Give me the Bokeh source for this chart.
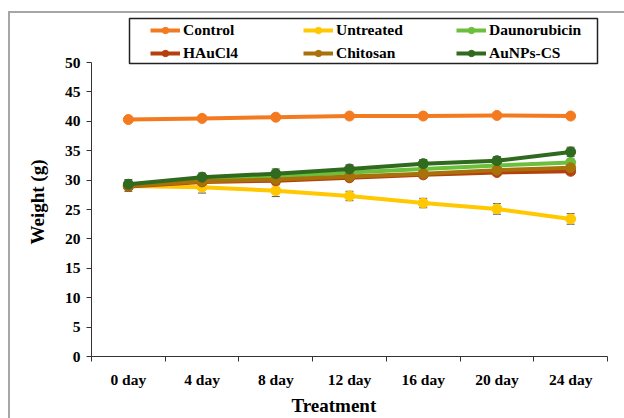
from bokeh.plotting import figure
from bokeh.models import ColumnDataSource, Whisker, FixedTicker, Range1d, TeeHead, BoxAnnotation, Title
from bokeh.embed import file_html
from bokeh.resources import INLINE

days = ["0 day", "4 day", "8 day", "12 day", "16 day", "20 day", "24 day"]
control = [40.3, 40.5, 40.7, 40.9, 40.9, 41.0, 40.9]
untreated = [29.0, 28.8, 28.2, 27.3, 26.1, 25.1, 23.4]
daunorubicin = [29.1, 30.2, 30.6, 31.3, 31.9, 32.5, 33.0]
haucl4 = [28.9, 29.7, 29.9, 30.4, 30.9, 31.3, 31.5]
chitosan = [29.0, 29.8, 30.1, 30.6, 31.1, 31.7, 32.1]
aunps_cs = [29.3, 30.5, 31.1, 31.9, 32.8, 33.3, 34.8]

err_control = [0.2, 0.2, 0.2, 0.2, 0.2, 0.2, 0.2]
err_untreated = [0.9, 1.0, 1.0, 0.8, 0.8, 0.9, 0.9]
err_daunorubicin = [0.6, 0.6, 0.6, 0.6, 0.6, 0.6, 0.6]
err_haucl4 = [0.5, 0.5, 0.5, 0.5, 0.5, 0.5, 0.5]
err_chitosan = [0.5, 0.5, 0.5, 0.5, 0.5, 0.5, 0.5]
err_aunps_cs = [0.8, 0.7, 0.8, 0.7, 0.7, 0.7, 0.8]

y_ticks = list(range(0, 51, 5))
x_title = "Treatment"
y_title = "Weight (g)"

series = [
    ("Control", control, err_control, "#F47A20"),
    ("Untreated", untreated, err_untreated, "#FFC800"),
    ("Daunorubicin", daunorubicin, err_daunorubicin, "#6CBF3C"),
    ("HAuCl4", haucl4, err_haucl4, "#B5400E"),
    ("Chitosan", chitosan, err_chitosan, "#A8720A"),
    ("AuNPs-CS", aunps_cs, err_aunps_cs, "#2F6A1F"),
]

FONT = "Liberation Serif"

# layout (pixels)
FRAME_H = 294          # height used by 0..50
Y_MAX = 50
Y_TOP = 58             # frame extends above the y axis so the legend can sit there
PX_PER_Y = FRAME_H / Y_MAX
frame_total_h = round(Y_TOP * PX_PER_Y)
FRAME_W = 516

p = figure(width=614, height=405, output_backend="svg", toolbar_location=None,
           x_range=Range1d(-0.5, len(days) - 0.5), y_range=Range1d(0, Y_TOP),
           frame_width=FRAME_W, frame_height=frame_total_h,
           min_border_left=79, min_border_right=19, min_border_top=2, min_border_bottom=62)
p.styles = {"margin-left": "8px", "margin-top": "11px",
            "border-left": "2px solid #a6a6a6", "border-top": "2px solid #a6a6a6"}
p.outline_line_color = None
p.xgrid.visible = False
p.ygrid.visible = False

x = list(range(len(days)))
for name, vals, errs, color in series:
    src = ColumnDataSource(dict(x=x, y=vals,
                                lo=[v - e for v, e in zip(vals, errs)],
                                hi=[v + e for v, e in zip(vals, errs)]))
    w = Whisker(source=src, base="x", lower="lo", upper="hi",
                line_color="#555555", line_width=1,
                upper_head=TeeHead(size=8, line_color="#555555", line_width=1),
                lower_head=TeeHead(size=8, line_color="#555555", line_width=1))
    p.add_layout(w)
    p.line("x", "y", source=src, line_color=color, line_width=4, legend_label=name)
    p.scatter("x", "y", source=src, size=10, fill_color=color, line_color=color, legend_label=name)

xa = p.xaxis[0]
xa.ticker = FixedTicker(ticks=x, minor_ticks=[i - 0.5 for i in range(len(days) + 1)])
xa.major_label_overrides = {i: d for i, d in enumerate(days)}
xa.major_tick_out = 0
xa.major_tick_in = 0
xa.minor_tick_out = 5
xa.minor_tick_in = 0
xa.major_label_standoff = 9

ya = p.yaxis[0]
ya.ticker = FixedTicker(ticks=y_ticks)
ya.bounds = (0, Y_MAX)
ya.major_tick_out = 5
ya.major_tick_in = 0
ya.major_label_standoff = 6

for ax in (xa, ya):
    ax.axis_line_color = "#333333"
    ax.major_tick_line_color = "#333333"
    ax.major_label_text_font = FONT
    ax.major_label_text_font_style = "bold"
    ax.major_label_text_font_size = "15.5px"
    ax.major_label_text_color = "black"
xa.minor_tick_line_color = "#333333"
ya.minor_tick_line_color = None

# axis titles placed as side titles so they can be offset like the reference
tx = Title(text=x_title, align="left", offset=200, standoff=4,
           text_font=FONT, text_font_style="bold", text_font_size="19px", text_color="black")
p.add_layout(tx, "below")
ty = Title(text=y_title, align="left", offset=112, standoff=28,
           text_font=FONT, text_font_style="bold", text_font_size="19px", text_color="black")
p.add_layout(ty, "left")

# legend: position in pixels relative to the frame's bottom-left
LEG_LEFT, LEG_BOTTOM = 59, 294
leg = p.legend[0]
leg.orientation = "horizontal"
leg.ncols = 3
leg.location = (LEG_LEFT, LEG_BOTTOM)
leg.label_text_font = FONT
leg.label_text_font_style = "bold"
leg.label_text_font_size = "15.5px"
leg.label_text_color = "black"
leg.label_standoff = 3
leg.glyph_width = 30
leg.glyph_height = 16
leg.label_height = 16
leg.label_width = 115
leg.spacing = 5
leg.padding = 4
leg.margin = 0
leg.border_line_color = None
leg.background_fill_alpha = 0

# legend border box (pixel geometry converted to data units)
BOX_L_PX, BOX_R_PX, BOX_B_PX, BOX_T_PX = 38, 506, 293, 338
px_per_x = FRAME_W / len(days)
box = BoxAnnotation(left=-0.5 + BOX_L_PX / px_per_x, right=-0.5 + BOX_R_PX / px_per_x,
                    bottom=BOX_B_PX / PX_PER_Y, top=BOX_T_PX / PX_PER_Y,
                    fill_alpha=0, line_color="#222222", line_width=1.5, line_alpha=1)
p.add_layout(box)

open("out.html", "w").write(file_html(p, INLINE))
